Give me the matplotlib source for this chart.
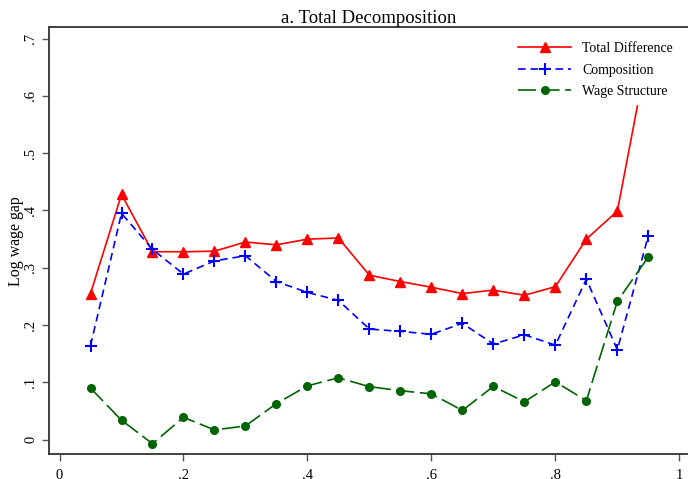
import numpy as np
import matplotlib.pyplot as plt

plt.rcParams['font.family'] = ['Liberation Serif', 'DejaVu Serif']
plt.rcParams['lines.scale_dashes'] = False

# quantiles
quant = [0.05, 0.10, 0.15, 0.20, 0.25, 0.30, 0.35, 0.40, 0.45, 0.50,
         0.55, 0.60, 0.65, 0.70, 0.75, 0.80, 0.85, 0.90, 0.95]

total = [0.255, 0.428, 0.328, 0.328, 0.329, 0.345, 0.340, 0.350, 0.352, 0.287,
         0.276, 0.266, 0.255, 0.261, 0.252, 0.267, 0.350, 0.399, 0.682]
compos = [0.164, 0.395, 0.332, 0.289, 0.312, 0.321, 0.276, 0.257, 0.243, 0.193,
          0.189, 0.184, 0.203, 0.167, 0.183, 0.165, 0.280, 0.157, 0.356]
wage = [0.090, 0.034, -0.007, 0.039, 0.017, 0.024, 0.063, 0.094, 0.108, 0.0925,
        0.0855, 0.080, 0.051, 0.093, 0.066, 0.101, 0.068, 0.2415, 0.319]

xticks = [0, 0.2, 0.4, 0.6, 0.8, 1]
xlabels = ['0', '.2', '.4', '.6', '.8', '1']
yticks = [0, 0.1, 0.2, 0.3, 0.4, 0.5, 0.6, 0.7]
ylabels = ['0', '.1', '.2', '.3', '.4', '.5', '.6', '.7']

fig = plt.figure(figsize=(6.88, 4.79), dpi=100)
ax = fig.add_axes([0.0712, 0.0516, 0.9288, 0.8921])

ax.plot(quant, total, color='red', lw=1.2, marker='^', ms=7,
        label='Total Difference')
ax.plot(quant, compos, color='blue', lw=1.2, marker='+', ms=9, mew=1.5,
        dashes=(5.5, 3.5), label='Composition')
ax.plot(quant, wage, color='#006400', lw=1.2, marker='o', ms=5.5,
        dashes=(13, 4), label='Wage Structure')

ax.set_xlim(-0.017, 1.014)
ax.set_ylim(-0.0255, 0.7203)
ax.set_xticks(xticks)
ax.set_xticklabels(xlabels)
ax.set_yticks(yticks)
ax.set_yticklabels(ylabels, rotation=90, va='center')

for s in ['left', 'bottom', 'top']:
    ax.spines[s].set_color('#333333')
    ax.spines[s].set_linewidth(1.3)
ax.spines['right'].set_visible(False)
ax.tick_params(direction='out', length=5, width=1, color='#555555',
               labelsize=10.5)
ax.tick_params(axis='x', pad=5.5)
ax.tick_params(axis='y', pad=3.5)

ax.set_ylabel('Log wage gap', fontsize=11.5, labelpad=0)
ax.set_title('a. Total Decomposition', fontsize=13.5, pad=2)

leg = ax.legend(loc='upper left', bbox_to_anchor=(0.7257, 0.977),
                fontsize=10, frameon=True, facecolor='white',
                edgecolor='white', framealpha=1, fancybox=False,
                handlelength=3.8, handletextpad=0.8, labelspacing=0.6,
                borderpad=0.4, borderaxespad=0)
leg.set_zorder(5)

fig.savefig('out.png', dpi=100)
